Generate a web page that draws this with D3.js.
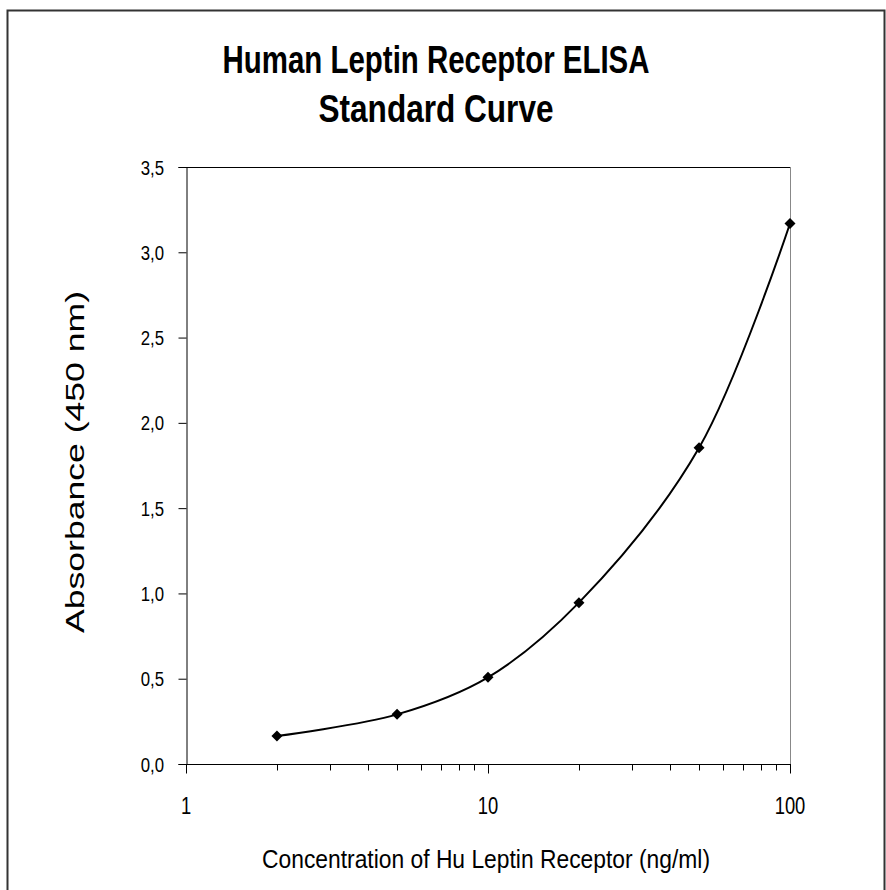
<!DOCTYPE html>
<html>
<head>
<meta charset="utf-8">
<script src="https://cdn.jsdelivr.net/npm/d3@7"></script>
<style>
  body { margin: 0; background: #fff; }
  svg text { font-family: "Liberation Sans", Arial, sans-serif; fill: #000; }
</style>
</head>
<body>
<svg id="chart" width="886" height="890"></svg>
<script>
// standard curve readings
const concentrations = [2, 5, 10, 20, 50, 100];
const absorbance = [0.164, 0.291, 0.508, 0.946, 1.854, 3.169];
const yTicks = [0, 0.5, 1.0, 1.5, 2.0, 2.5, 3.0, 3.5];
const xMajorTicks = [1, 10, 100];
const titleLines = ['Human Leptin Receptor ELISA', 'Standard Curve'];

const svg = d3.select('#chart');
const narrow = 0.8; // no narrow font installed, squeeze horizontally

// outer frame
svg.append('rect')
  .attr('x', 7.5).attr('y', 10.5).attr('width', 877).attr('height', 900)
  .attr('fill', 'none').attr('stroke', '#333').attr('stroke-width', 2);

const plot = { left: 186, right: 790, top: 167, bottom: 764 };

const x = d3.scaleLog().domain([1, 100]).range([plot.left, plot.right]);
const y = d3.scaleLinear().domain([0, 3.5]).range([plot.bottom, plot.top]);

// plot area border (top black, right gray)
svg.append('line')
  .attr('x1', plot.left).attr('x2', plot.right)
  .attr('y1', plot.top + 0.5).attr('y2', plot.top + 0.5)
  .attr('stroke', '#000');
svg.append('line')
  .attr('x1', plot.right + 0.5).attr('x2', plot.right + 0.5)
  .attr('y1', plot.top).attr('y2', plot.bottom)
  .attr('stroke', '#888');

// y axis (ticks only, labels drawn below)
const yAxis = d3.axisLeft(y).tickValues(yTicks).tickSize(8).tickFormat('');
const yg = svg.append('g').attr('transform', `translate(${plot.left + 0.5},0)`).call(yAxis);
yg.select('.domain').attr('stroke', '#000');
yg.selectAll('.tick line').attr('stroke', '#000');

svg.selectAll('.ylbl').data(yTicks).enter().append('text')
  .attr('class', 'ylbl')
  .attr('transform', d => `translate(164,${y(d)}) scale(${narrow},1)`)
  .attr('dy', '0.36em')
  .attr('text-anchor', 'end')
  .style('font-size', '21px')
  .text(d => d3.format('.1f')(d).replace('.', ','));

// x axis: minor + major ticks
const minorTicks = [];
for (let dec = 1; dec < 100; dec *= 10) {
  for (let k = 2; k <= 9; k++) minorTicks.push(dec * k);
}
const xg = svg.append('g').attr('transform', `translate(0,${plot.bottom + 0.5})`);
xg.append('line')
  .attr('x1', plot.left).attr('x2', plot.right + 1)
  .attr('stroke', '#000');
xg.selectAll('.minor').data(minorTicks).enter().append('line')
  .attr('class', 'minor')
  .attr('x1', d => Math.round(x(d)) + 0.5).attr('x2', d => Math.round(x(d)) + 0.5)
  .attr('y1', 0).attr('y2', 6)
  .attr('stroke', '#000');
xg.selectAll('.major').data(xMajorTicks).enter().append('line')
  .attr('class', 'major')
  .attr('x1', d => Math.round(x(d)) + 0.5).attr('x2', d => Math.round(x(d)) + 0.5)
  .attr('y1', 0).attr('y2', 9)
  .attr('stroke', '#000');
svg.selectAll('.xlbl').data(xMajorTicks).enter().append('text')
  .attr('class', 'xlbl')
  .attr('transform', d => `translate(${x(d)},${plot.bottom + 50}) scale(${narrow},1)`)
  .attr('text-anchor', 'middle')
  .style('font-size', '23px')
  .text(d => d);

// curve
const line = d3.line()
  .x((d, i) => x(concentrations[i]))
  .y(d => y(d))
  .curve(d3.curveCatmullRom.alpha(0.5));
svg.append('path')
  .datum(absorbance)
  .attr('d', line)
  .attr('fill', 'none')
  .attr('stroke', '#000')
  .attr('stroke-width', 2);

// diamond markers
svg.selectAll('.pt').data(absorbance).enter().append('path')
  .attr('class', 'pt')
  .attr('transform', (d, i) => `translate(${x(concentrations[i])},${y(d)})`)
  .attr('d', 'M0,-5.5L5.5,0L0,5.5L-5.5,0Z')
  .attr('fill', '#000');

// titles
const titleWidths = [427, 235];
svg.selectAll('.title').data(titleLines).enter().append('text')
  .attr('class', 'title')
  .attr('x', 436 - 0)
  .attr('y', (d, i) => 73 + i * 49)
  .attr('text-anchor', 'middle')
  .attr('textLength', (d, i) => titleWidths[i])
  .attr('lengthAdjust', 'spacingAndGlyphs')
  .style('font-size', '39px')
  .style('font-weight', 'bold')
  .text(d => d);

// axis titles
svg.append('text')
  .attr('x', 486).attr('y', 868)
  .attr('text-anchor', 'middle')
  .attr('textLength', 448)
  .attr('lengthAdjust', 'spacingAndGlyphs')
  .style('font-size', '26px')
  .text('Concentration of Hu Leptin Receptor (ng/ml)');
svg.append('text')
  .attr('transform', 'translate(84,462) rotate(-90)')
  .attr('text-anchor', 'middle')
  .attr('textLength', 342)
  .attr('lengthAdjust', 'spacingAndGlyphs')
  .style('font-size', '25px')
  .text('Absorbance (450 nm)');
</script>
</body>
</html>
